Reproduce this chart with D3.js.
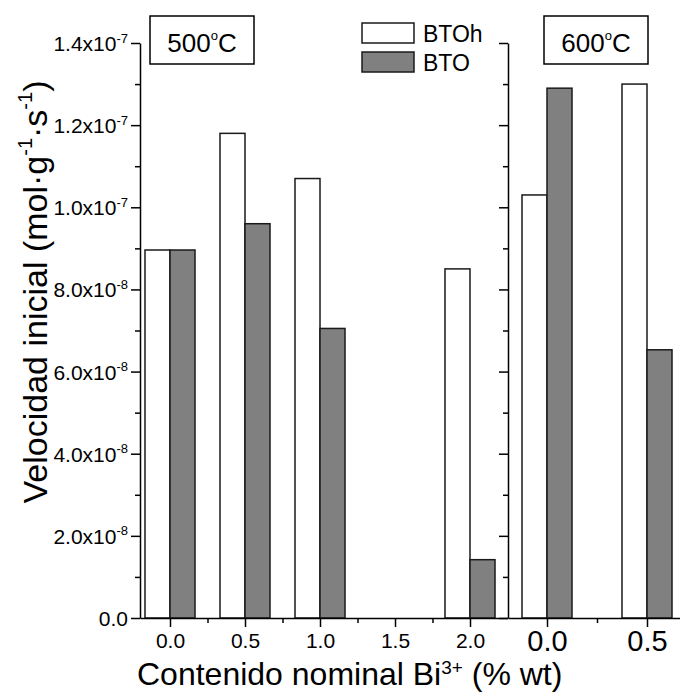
<!DOCTYPE html>
<html>
<head>
<meta charset="utf-8">
<script src="https://cdn.jsdelivr.net/npm/d3@7"></script>
<style>
  body { margin: 0; background: #fff; }
  text { font-family: "Liberation Sans", Arial, sans-serif; fill: #000; }
</style>
</head>
<body>
<div class="canvas"></div>
<script>
// data
const leftCats = [0.0, 0.5, 1.0, 1.5, 2.0];
const btohLeft = [8.96e-8, 1.18e-7, 1.07e-7, null, 8.5e-8];
const btoLeft  = [8.96e-8, 9.6e-8, 7.05e-8, null, 1.42e-8];

const rightCats = [0.0, 0.5];
const btohRight = [1.03e-7, 1.30e-7];
const btoRight  = [1.29e-7, 6.53e-8];

const yTicks = [0, 2e-8, 4e-8, 6e-8, 8e-8, 1e-7, 1.2e-7, 1.4e-7];
const yMinor = [1e-8, 3e-8, 5e-8, 7e-8, 9e-8, 1.1e-7, 1.3e-7];

const width = 680, height = 693;
const gray = '#808080';

const svg = d3.select('.canvas')
  .append('svg')
  .attr('width', width)
  .attr('height', height);

// scales
const y = d3.scaleLinear().domain([0, 1.4e-7]).range([618, 43]);
const xL = d3.scaleLinear().domain([-0.2, 2.25]).range([140, 507.5]);
const xR = d3.scaleLinear().domain([-0.195, 0.665]).range([508, 680]);

// panels: scale, categories, series, bar width (data units), major/minor ticks, label size
const panels = [
  {x: xL, cats: leftCats, a: btohLeft, b: btoLeft, bw: 0.1667,
   major: [0, 0.5, 1, 1.5, 2], minor: [0.25, 0.75, 1.25, 1.75], fs: 21, pad: 6},
  {x: xR, cats: rightCats, a: btohRight, b: btoRight, bw: 0.125,
   major: [0, 0.5], minor: [0.25], fs: 29, pad: 3}
];

panels.forEach(p => {
  const g = svg.append('g');

  // BTOh bars (left of tick), BTO bars (right of tick)
  const rows = p.cats.map((c, i) => ({c, a: p.a[i], b: p.b[i]}));
  g.selectAll('rect.btoh')
    .data(rows.filter(d => d.a != null))
    .enter().append('rect')
      .attr('class', 'btoh')
      .attr('x', d => p.x(d.c - p.bw))
      .attr('width', d => p.x(d.c) - p.x(d.c - p.bw))
      .attr('y', d => y(d.a))
      .attr('height', d => y(0) - y(d.a))
      .attr('fill', '#fff')
      .attr('stroke', '#1a1a1a')
      .attr('stroke-width', 1.5);

  g.selectAll('rect.bto')
    .data(rows.filter(d => d.b != null))
    .enter().append('rect')
      .attr('class', 'bto')
      .attr('x', d => p.x(d.c))
      .attr('width', d => p.x(d.c + p.bw) - p.x(d.c))
      .attr('y', d => y(d.b))
      .attr('height', d => y(0) - y(d.b))
      .attr('fill', gray)
      .attr('stroke', '#1a1a1a')
      .attr('stroke-width', 1.5);

  // x axis
  const xAxisGroup = svg.append('g')
    .attr('transform', `translate(0, ${y(0)})`);
  xAxisGroup.call(d3.axisBottom(p.x)
    .tickValues(p.major)
    .tickSize(9)
    .tickSizeOuter(0)
    .tickPadding(p.pad)
    .tickFormat(d3.format('.1f')));
  xAxisGroup.selectAll('text')
    .style('font-size', p.fs + 'px')
    .style('font-family', '"Liberation Sans", Arial, sans-serif');

  const xMinorGroup = svg.append('g')
    .attr('transform', `translate(0, ${y(0)})`);
  xMinorGroup.call(d3.axisBottom(p.x)
    .tickValues(p.minor)
    .tickSize(5)
    .tickSizeOuter(0)
    .tickFormat(''));
  xMinorGroup.select('.domain').remove();
});

// y axes
function yAxisAt(xpos, labels) {
  const gMaj = svg.append('g').attr('transform', `translate(${xpos},0)`);
  gMaj.call(d3.axisLeft(y)
    .tickValues(yTicks)
    .tickSize(9)
    .tickSizeOuter(0)
    .tickPadding(3)
    .tickFormat(''));
  const gMin = svg.append('g').attr('transform', `translate(${xpos},0)`);
  gMin.call(d3.axisLeft(y)
    .tickValues(yMinor)
    .tickSize(5)
    .tickFormat(''));
  gMin.select('.domain').remove();

  if (labels) {
    gMaj.selectAll('.tick text').each(function(d) {
      const t = d3.select(this)
        .style('font-size', '21px')
        .style('font-family', '"Liberation Sans", Arial, sans-serif')
        .attr('dy', '0.36em');
      if (d === 0) { t.text('0.0'); return; }
      const e = Math.floor(Math.log10(d) + 1e-9);
      const m = d / Math.pow(10, e);
      t.text(null);
      t.append('tspan').text(m.toFixed(1) + 'x10');
      t.append('tspan').text(e).attr('font-size', '13px').attr('dy', '-0.65em');
    });
  }
}
yAxisAt(140, true);
yAxisAt(508, false);

svg.selectAll('.domain, .tick line')
  .attr('stroke', '#000')
  .attr('stroke-width', 1.5);

// axis titles
const yTitle = svg.append('text')
  .attr('transform', 'translate(47, 292) rotate(-90)')
  .attr('text-anchor', 'middle')
  .style('font-size', '34px');
yTitle.append('tspan').text('Velocidad inicial (mol·g');
yTitle.append('tspan').text('-1').style('font-size', '20px').attr('dy', '-0.75em');
yTitle.append('tspan').text('·s').attr('dy', '0.44em');
yTitle.append('tspan').text('-1').style('font-size', '20px').attr('dy', '-0.75em');
yTitle.append('tspan').text(')').attr('dy', '0.44em');

const xTitle = svg.append('text')
  .attr('x', 137)
  .attr('y', 685)
  .style('font-size', '32px');
xTitle.append('tspan').text('Contenido nominal Bi');
xTitle.append('tspan').text('3+').style('font-size', '19px').attr('dy', '-0.6em');
xTitle.append('tspan').text(' (% wt)').attr('dy', '0.36em');

// temperature boxes
const temps = [{label: '500', x: 150}, {label: '600', x: 544}];
temps.forEach(t => {
  svg.append('rect')
    .attr('x', t.x).attr('y', 16)
    .attr('width', 104).attr('height', 48)
    .attr('fill', '#fff')
    .attr('stroke', '#000')
    .attr('stroke-width', 1.5);
  const tx = svg.append('text')
    .attr('x', t.x + 52)
    .attr('y', 52)
    .attr('text-anchor', 'middle')
    .style('font-size', '26px');
  tx.append('tspan').text(t.label);
  tx.append('tspan').text('o').style('font-size', '13px').attr('dy', '-0.9em');
  tx.append('tspan').text('C').attr('dy', '0.45em');
});

// legend
const legend = [{name: 'BTOh', fill: '#fff', y: 23}, {name: 'BTO', fill: gray, y: 52}];
legend.forEach(l => {
  svg.append('rect')
    .attr('x', 362).attr('y', l.y)
    .attr('width', 52).attr('height', 20)
    .attr('fill', l.fill)
    .attr('stroke', '#1a1a1a')
    .attr('stroke-width', 1.5);
  svg.append('text')
    .attr('x', 423)
    .attr('y', l.y + 19)
    .style('font-size', '23px')
    .text(l.name);
});
</script>
</body>
</html>
